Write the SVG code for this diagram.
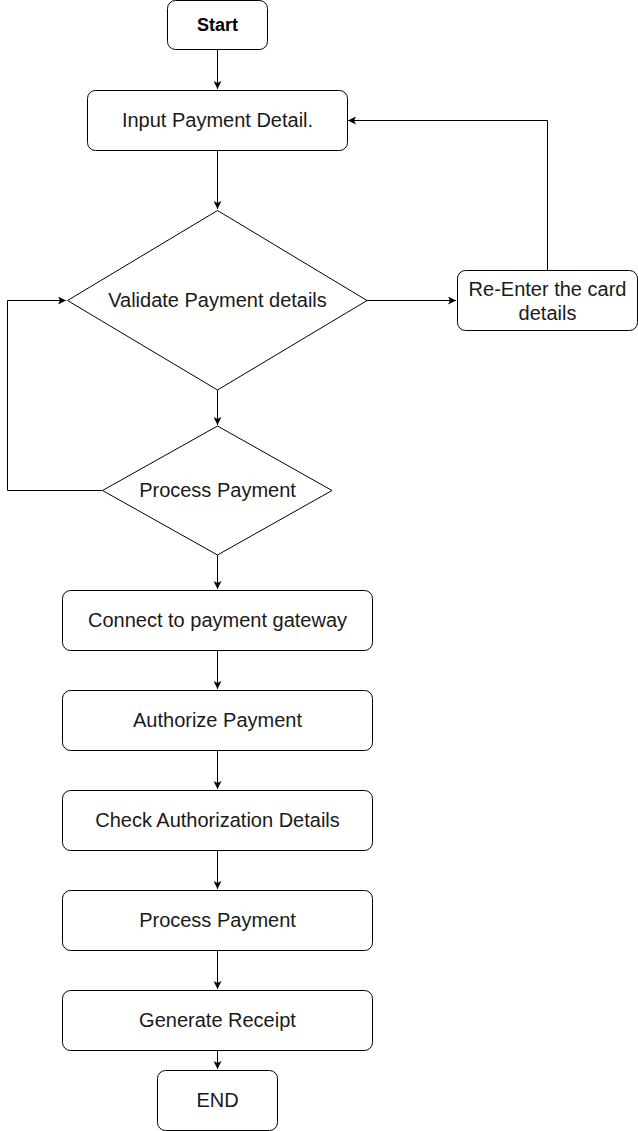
<svg xmlns="http://www.w3.org/2000/svg" width="638" height="1131" viewBox="0 0 638 1131">
<style>
.n{fill:#fff;stroke:#000;stroke-width:1}
.t{font-family:"Liberation Sans",Arial,Helvetica,sans-serif;font-size:20px;fill:#1a1a1a;text-anchor:middle}
.b{font-weight:bold;font-size:18px;fill:#000}
.c{fill:none;stroke:#000;stroke-width:1}
</style>
<defs>
<marker id="a" viewBox="0 0 10 10" refX="10" refY="5" markerWidth="8" markerHeight="8" markerUnits="userSpaceOnUse" orient="auto">
<path d="M0,0 L10,5 L0,10 L2.5,5 Z" fill="#000"/>
</marker>
</defs>
<rect width="638" height="1131" fill="#fff"/>
<g id="connectors">
<path class="c" d="M217.5,50 V89" marker-end="url(#a)"/>
<path class="c" d="M217.5,150 V209" marker-end="url(#a)"/>
<path class="c" d="M367,300.5 H456" marker-end="url(#a)"/>
<path class="c" d="M547.5,270 V120.5 H348" marker-end="url(#a)"/>
<path class="c" d="M217.5,390 V425" marker-end="url(#a)"/>
<path class="c" d="M102,490.5 H7.5 V300.5 H66" marker-end="url(#a)"/>
<path class="c" d="M217.5,555 V589" marker-end="url(#a)"/>
<path class="c" d="M217.5,650 V689" marker-end="url(#a)"/>
<path class="c" d="M217.5,750 V789" marker-end="url(#a)"/>
<path class="c" d="M217.5,850 V889" marker-end="url(#a)"/>
<path class="c" d="M217.5,950 V989" marker-end="url(#a)"/>
<path class="c" d="M217.5,1050 V1069" marker-end="url(#a)"/>
</g>
<g id="start"><rect class="n" x="167.5" y="0.5" width="100" height="49" rx="8"/><text class="t b" x="217.5" y="31">Start</text></g>
<g id="input"><rect class="n" x="87.5" y="90.5" width="260" height="60" rx="8"/><text class="t" x="217.5" y="127">Input Payment Detail.</text></g>
<g id="validate"><polygon class="n" points="217.5,210.5 367,300.5 217.5,390 67.5,300.5"/><text class="t" x="217.5" y="307">Validate Payment details</text></g>
<g id="reenter"><rect class="n" x="457.5" y="270.5" width="180" height="60" rx="8"/><text class="t" x="547.5" y="296">Re-Enter the card</text><text class="t" x="547.5" y="320">details</text></g>
<g id="process1"><polygon class="n" points="217.5,426 332,490.5 217.5,555 102.5,490.5"/><text class="t" x="217.5" y="497">Process Payment</text></g>
<g id="connect"><rect class="n" x="62.5" y="590.5" width="310" height="60" rx="8"/><text class="t" x="217.5" y="627">Connect to payment gateway</text></g>
<g id="authorize"><rect class="n" x="62.5" y="690.5" width="310" height="60" rx="8"/><text class="t" x="217.5" y="727">Authorize Payment</text></g>
<g id="check"><rect class="n" x="62.5" y="790.5" width="310" height="60" rx="8"/><text class="t" x="217.5" y="827">Check Authorization Details</text></g>
<g id="process2"><rect class="n" x="62.5" y="890.5" width="310" height="60" rx="8"/><text class="t" x="217.5" y="927">Process Payment</text></g>
<g id="receipt"><rect class="n" x="62.5" y="990.5" width="310" height="60" rx="8"/><text class="t" x="217.5" y="1027">Generate Receipt</text></g>
<g id="end"><rect class="n" x="157.5" y="1070.5" width="120" height="60" rx="8"/><text class="t" x="217.5" y="1107">END</text></g>
</svg>
